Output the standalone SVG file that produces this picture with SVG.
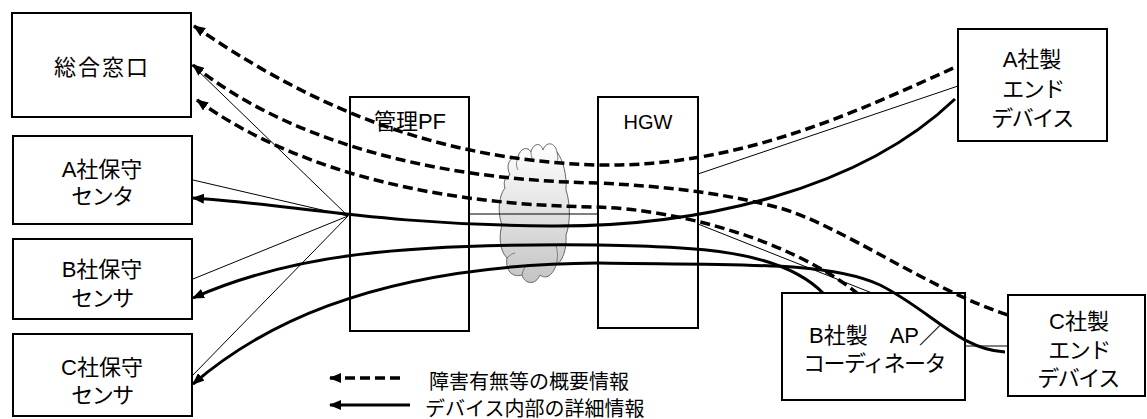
<svg xmlns="http://www.w3.org/2000/svg" width="1147" height="419" viewBox="0 0 1147 419">
<style>
.box{fill:#fff;stroke:#000;stroke-width:2}
.t{font-family:"Liberation Sans","Noto Sans CJK JP",sans-serif;font-size:22px;fill:#000;text-anchor:middle}
.k{letter-spacing:-1.5px}
.ts{font-family:"Liberation Sans","Noto Sans CJK JP",sans-serif;font-size:20px;fill:#000}
.dash{fill:none;stroke:#000;stroke-width:3.5;stroke-dasharray:10 5}
.solid{fill:none;stroke:#000;stroke-width:3}
.thin{fill:none;stroke:#000;stroke-width:1}
</style>
<defs>
<marker id="ah" viewBox="0 0 12 10" refX="11" refY="5" markerWidth="12" markerHeight="10" markerUnits="userSpaceOnUse" orient="auto-start-reverse">
<path d="M0,0 L12,5 L0,10 Z" fill="#000"/>
</marker>
<linearGradient id="cg" x1="0" y1="0" x2="0" y2="1">
<stop offset="0" stop-color="#ffffff"/>
<stop offset="1" stop-color="#c4c4c4"/>
</linearGradient>
</defs>
<g id="n-madoguchi"><rect class="box" x="12" y="13" width="179" height="104"/><text class="t" x="102" y="75" style="letter-spacing:2px">総合窓口</text></g>
<g id="n-a-hoshu"><rect class="box" x="13" y="136" width="179" height="88"/><text class="t" x="102" y="177">A社保守</text><text class="t k" x="102" y="204">センタ</text></g>
<g id="n-b-hoshu"><rect class="box" x="13" y="239" width="179" height="80"/><text class="t" x="102" y="277">B社保守</text><text class="t k" x="102" y="306">センサ</text></g>
<g id="n-c-hoshu"><rect class="box" x="13" y="334" width="179" height="82"/><text class="t" x="102" y="375">C社保守</text><text class="t k" x="102" y="403">センサ</text></g>
<g id="n-pf"><rect class="box" x="350" y="97" width="119" height="234"/><text class="t" x="410" y="129">管理PF</text></g>
<g id="n-hgw"><rect class="box" x="598" y="97" width="100" height="231"/><text class="t" x="648" y="129" style="font-size:20px">HGW</text></g>
<g id="n-a-dev"><rect class="box" x="958" y="29" width="149" height="112"/><text class="t" x="1032" y="67">A社製</text><text class="t k" x="1033" y="97">エンド</text><text class="t k" x="1032" y="126">デバイス</text></g>
<g id="n-b-ap"><rect class="box" x="782" y="293" width="183" height="107"/><text class="t" x="875" y="343">B社製　AP／</text><text class="t k" x="874" y="371">コーディネータ</text></g>
<g id="n-c-dev"><rect class="box" x="1008" y="295" width="137" height="101"/><text class="t" x="1079" y="329">C社製</text><text class="t k" x="1079" y="358">エンド</text><text class="t k" x="1078" y="386">デバイス</text></g>
<g id="cloud">
<path d="M510,175 C505,165 510,156 518,157 C520,148 528,146 531,152 C533,143 541,142 543,150 C546,141 555,142 557,152 C563,160 567,175 566,190 C571,205 570,225 566,235 C567,250 562,262 556,265 C553,275 546,280 540,275 C536,285 525,285 522,275 C512,278 505,270 507,258 C499,250 499,235 502,225 C497,212 499,195 505,188 C503,182 505,177 510,175 Z" fill="url(#cg)" stroke="#666" stroke-width="1"/>
<path d="M518,157 C516,162 516,166 518,170 M531,152 C531,156 532,158 533,160 M557,152 C558,156 558,160 557,163 M556,265 C558,258 558,252 556,246 M522,275 C523,270 525,266 528,264 M507,258 C510,255 513,253 515,253" fill="none" stroke="#666" stroke-width="0.8"/>
</g>
<g id="connectors">
<path class="thin" d="M192,65 L348,216"/>
<path class="thin" d="M193,180 L348,216"/>
<path class="thin" d="M193,279 L348,216"/>
<path class="thin" d="M193,375 L348,216"/>
<path class="thin" d="M469,214 L598,214"/>
<path class="thin" d="M698,174 L958,86"/>
<path class="thin" d="M698,224 L872,293"/>
<path class="thin" d="M965,346 L1008,346"/>
<path class="dash" marker-start="url(#ah)" d="M194,26 C295,95 420,160 598,165 C740,168 860,110 958,66"/>
<path class="dash" marker-start="url(#ah)" d="M193,65 C280,135 420,180 598,183 C660,186 720,192 780,208 C840,225 930,290 1008,315"/>
<path class="dash" marker-start="url(#ah)" d="M197,100 C280,160 410,205 598,207 C680,210 790,240 857,293"/>
<path class="solid" marker-start="url(#ah)" d="M193,198 C290,204 380,225 550,226 C700,227 860,190 955,99"/>
<path class="solid" marker-start="url(#ah)" d="M193,298 C290,255 400,243 598,245 C700,247 780,250 823,293"/>
<path class="solid" marker-start="url(#ah)" d="M193,384 C250,335 360,265 598,263 C750,265 830,262 880,285 C930,310 960,350 1005,352"/>
</g>
<g id="legend">
<path class="dash" marker-start="url(#ah)" d="M330,378 L400,378"/>
<text class="ts" x="429" y="389">障害有無等の概要情報</text>
<path class="solid" marker-start="url(#ah)" d="M330,405 L410,405"/>
<text class="ts" x="425" y="416">デバイス内部の詳細情報</text>
</g>
</svg>
